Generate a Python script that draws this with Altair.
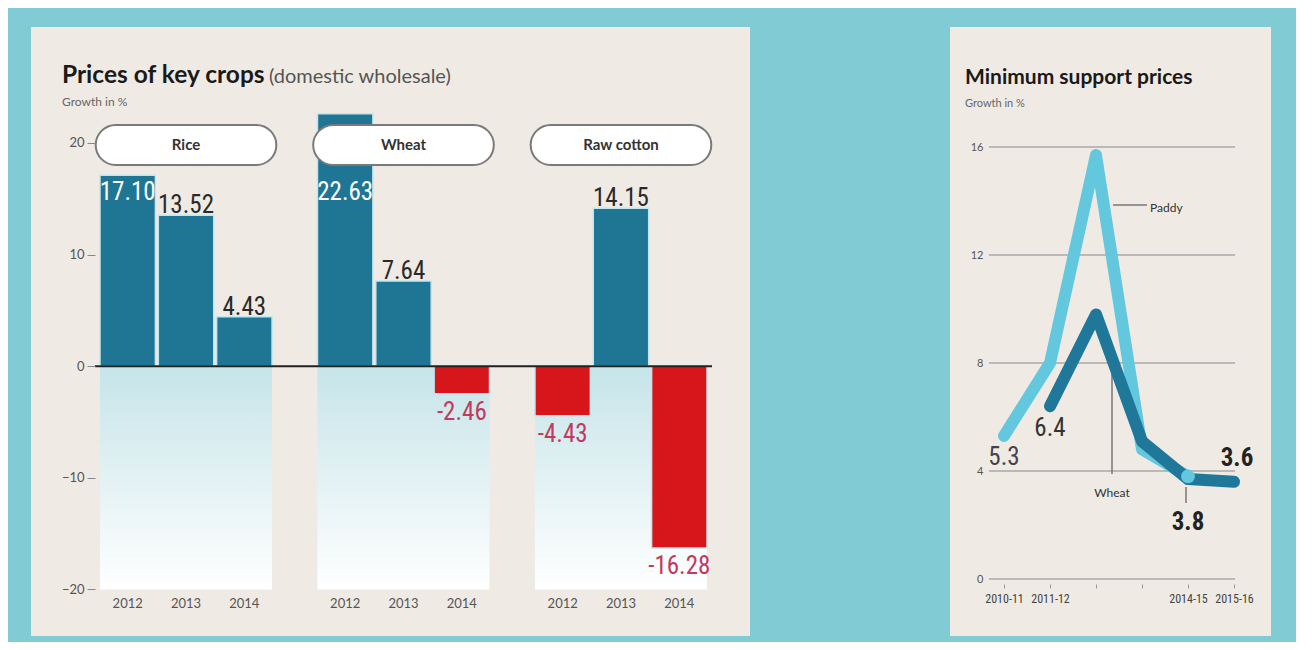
import altair as alt
import pandas as pd

# ---------------- data ----------------
crops = ["Rice", "Wheat", "Raw cotton"]
years = ["2012", "2013", "2014"]
rice = [17.10, 13.52, 4.43]
wheat = [22.63, 7.64, -2.46]
cotton = [-4.43, 14.15, -16.28]
y_ticks_left = [-20, -10, 0, 10, 20]

seasons = ["2010-11", "2011-12", "2012-13", "2013-14", "2014-15", "2015-16"]
season_labels = ["2010-11", "2011-12", "", "", "2014-15", "2015-16"]
paddy_msp = [5.3, 8.0, 15.7, 4.8, 3.8, None]
wheat_msp = [None, 6.4, 9.8, 5.1, 3.7, 3.6]
y_ticks_right = [0, 4, 8, 12, 16]

# ---------------- styles ----------------
TEAL = "#80cbd4"
PANEL = "#efebe4"
BLUE = "#1e7594"
RED = "#d7161c"
NEG_TXT = "#c23a5c"
LIGHT = "#63c7dd"
DARK = "#1f7899"
FONT = "Lato, 'Open Sans', sans-serif"
NUM = "'Liberation Sans Narrow', 'Arial Narrow', 'Roboto Condensed', Lato, sans-serif"

rows = []
for crop, vals in zip(crops, [rice, wheat, cotton]):
    for yr, v in zip(years, vals):
        rows.append({"crop": crop, "year": yr, "value": v, "label": f"{v:.2f}"})
bars_df = pd.DataFrame(rows)
crop_df = pd.DataFrame({"crop": crops})
one = pd.DataFrame({"t": [""]})


def note(text, x, y, size, weight="normal", color="#222", align="left",
         baseline="alphabetic", font=FONT):
    return alt.Chart(pd.DataFrame({"t": [text]})).mark_text(
        align=align, baseline=baseline, fontSize=size, fontWeight=weight,
        color=color, font=font
    ).encode(text="t:N", x=alt.value(x), y=alt.value(y))


# ---------------- left chart ----------------
W1, H1 = 617, 469.4
xL = alt.X("crop:N", scale=alt.Scale(domain=crops, paddingInner=0.209, paddingOuter=0.023), axis=None)
xo = alt.XOffset("year:N", scale=alt.Scale(domain=years, paddingInner=0.05, paddingOuter=0))
yScaleL = alt.Scale(domain=[-20, 22.06], nice=False, zero=False)
yAxisL = alt.Axis(values=y_ticks_left, title=None, domain=False, grid=False, tickSize=8,
                  tickColor="#888", tickWidth=1, labelColor="#555", labelFontSize=13,
                  labelFont=FONT, labelPadding=3, zindex=1)

panelL = alt.Chart(one).mark_rect(fill=PANEL).encode(
    x=alt.value(-64), x2=alt.value(655), y=alt.value(-93), y2=alt.value(516))

grad = alt.Chart(crop_df).mark_rect(
    fill=alt.Gradient(gradient="linear",
                      stops=[alt.GradientStop(color="#c6e4e9", offset=0),
                             alt.GradientStop(color="#ffffff", offset=1)],
                      x1=0, x2=0, y1=0, y2=1)
).encode(x=xL, y=alt.datum(0), y2=alt.datum(-20))

bars = alt.Chart(bars_df).mark_bar(stroke="#c2e6ee", strokeWidth=1.5, clip=False).encode(
    x=xL, xOffset=xo,
    y=alt.Y("value:Q", scale=yScaleL, axis=yAxisL),
    y2=alt.datum(0),
    color=alt.condition("datum.value > 0", alt.value(BLUE), alt.value(RED)),
)

zero = alt.Chart(one).mark_rule(color="#222", strokeWidth=2).encode(y=alt.datum(0))

lab_in = alt.Chart(bars_df).transform_filter("datum.value >= 17").transform_calculate(
    ly="min(datum.value, 17.1)"
).mark_text(font=NUM, fontSize=25, color="white", baseline="top", dy=5).encode(
    x=xL, xOffset=xo, y=alt.Y("ly:Q"), text="label:N")

lab_pos = alt.Chart(bars_df).transform_filter("datum.value > 0 && datum.value < 17").mark_text(
    font=NUM, fontSize=25, color="#2a2a2a", baseline="alphabetic", dy=-2
).encode(x=xL, xOffset=xo, y=alt.Y("value:Q"), text="label:N")

lab_neg = alt.Chart(bars_df).transform_filter("datum.value < 0").mark_text(
    font=NUM, fontSize=25, color=NEG_TXT, baseline="top", dy=6
).encode(x=xL, xOffset=xo, y=alt.Y("value:Q"), text="label:N")

pills = alt.Chart(crop_df).mark_bar(
    fill="white", stroke="#7a7a7a", strokeWidth=2, cornerRadius=20,
    width=alt.RelativeBandSize(1.05)
).encode(x=xL, y=alt.value(5), y2=alt.value(45))

pill_txt = alt.Chart(crop_df).mark_text(
    font=FONT, fontSize=15, fontWeight="bold", color="#333", baseline="middle"
).encode(x=xL, y=alt.value(25), text="crop:N")

year_txt = alt.Chart(bars_df).mark_text(
    font=FONT, fontSize=13, color="#555", baseline="middle"
).encode(x=xL, xOffset=xo, y=alt.value(484), text="year:N")

left = alt.layer(
    panelL, grad, bars, zero, lab_in, lab_pos, lab_neg, pills, pill_txt, year_txt,
    note("Prices of key crops", -33, -37, 24.5, "bold", "#1a1a1a"),
    note("(domestic wholesale)", 174, -37, 20, "normal", "#555"),
    note("Growth in %", -33, -18, 12, "normal", "#666", baseline="middle"),
).properties(width=W1, height=H1)

# ---------------- right chart ----------------
W2, H2 = 260, 459
mrows = []
for s, p, w in zip(seasons, paddy_msp, wheat_msp):
    if p is not None:
        mrows.append({"season": s, "series": "Paddy", "value": p, "label": f"{p:.1f}"})
    if w is not None:
        mrows.append({"season": s, "series": "Wheat", "value": w, "label": f"{w:.1f}"})
msp_df = pd.DataFrame(mrows)
hidden = [s for s, l in zip(seasons, season_labels) if not l]
label_expr = "indexof([" + ",".join(f"'{h}'" for h in hidden) + "], datum.value) >= 0 ? '' : datum.value"

xR = alt.X("season:N", scale=alt.Scale(type="point", domain=seasons, padding=0.326),
           axis=alt.Axis(title=None, labelExpr=label_expr, domain=False, tickSize=4,
                         tickColor="#999", offset=5, labelFontSize=12, labelColor="#444",
                         labelFont=NUM, labelPadding=5, labelAngle=0, zindex=1))
yScaleR = alt.Scale(domain=[0, 17], nice=False)
yAxisR = alt.Axis(values=y_ticks_right, title=None, domain=False, ticks=False, grid=False,
                  labelFontSize=11, labelColor="#555", labelFont=FONT, labelPadding=6, zindex=1)

panelR = alt.Chart(one).mark_rect(fill=PANEL).encode(
    x=alt.value(-39), x2=alt.value(282), y=alt.value(-93), y2=alt.value(516))

grid = alt.Chart(pd.DataFrame({"value": y_ticks_right})).mark_rule(
    color="#a8a8a8", strokeWidth=1.5
).encode(y=alt.Y("value:Q", scale=yScaleR, axis=yAxisR), x=alt.value(0), x2=alt.value(246))

lead_w = alt.Chart(one).mark_rule(color="#777", strokeWidth=1.5).encode(
    x=alt.value(123), y=alt.value(230), y2=alt.value(354))
lead_p = alt.Chart(one).mark_rule(color="#777", strokeWidth=1.5).encode(
    x=alt.value(124), x2=alt.value(158), y=alt.value(85))
lead_38 = alt.Chart(one).mark_rule(color="#777", strokeWidth=1.5).encode(
    x=alt.value(197), y=alt.value(367), y2=alt.value(383))


def line(series, color):
    return alt.Chart(msp_df).transform_filter(f"datum.series == '{series}'").mark_line(
        color=color, strokeWidth=12, strokeCap="round", strokeJoin="round"
    ).encode(x=xR, y=alt.Y("value:Q", scale=yScaleR, axis=yAxisR))


paddy_line = line("Paddy", LIGHT)
wheat_line = line("Wheat", DARK)
paddy_end = alt.Chart(msp_df).transform_filter(
    "datum.series == 'Paddy' && datum.season == '2014-15'"
).mark_circle(size=190, color=LIGHT, opacity=1).encode(x=xR, y=alt.Y("value:Q", scale=yScaleR, axis=yAxisR))


def vlabel(series, season, dy, weight, color, dx=0):
    return alt.Chart(msp_df).transform_filter(
        f"datum.series == '{series}' && datum.season == '{season}'"
    ).mark_text(font=NUM, fontSize=25, fontWeight=weight, color=color,
                baseline="middle", dy=dy, dx=dx).encode(
        x=xR, y=alt.Y("value:Q", scale=yScaleR, axis=yAxisR), text="label:N")


right = alt.layer(
    panelR, grid, lead_w, lead_p, lead_38, paddy_line, wheat_line, paddy_end,
    vlabel("Paddy", "2010-11", 21, "normal", "#4b3f4f"),
    vlabel("Wheat", "2011-12", 22, "normal", "#333"),
    vlabel("Paddy", "2014-15", 46, "bold", "#222"),
    vlabel("Wheat", "2015-16", -24, "bold", "#222", dx=3),
    note("Wheat", 123, 373, 12, "normal", "#333", align="center", baseline="middle"),
    note("Paddy", 161, 88, 12, "normal", "#333", baseline="middle"),
    note("Minimum support prices", -24, -36, 21, "bold", "#1a1a1a"),
    note("Growth in %", -24, -16, 11, "normal", "#666", baseline="middle"),
).properties(width=W2, height=H2)

chart = alt.hconcat(left, right, spacing=200).configure(
    background=TEAL,
    padding={"left": 23, "top": 19, "right": 25, "bottom": 6},
).configure_view(stroke=None)

chart.save("out.html", embed_options={"renderer": "svg", "actions": False})
